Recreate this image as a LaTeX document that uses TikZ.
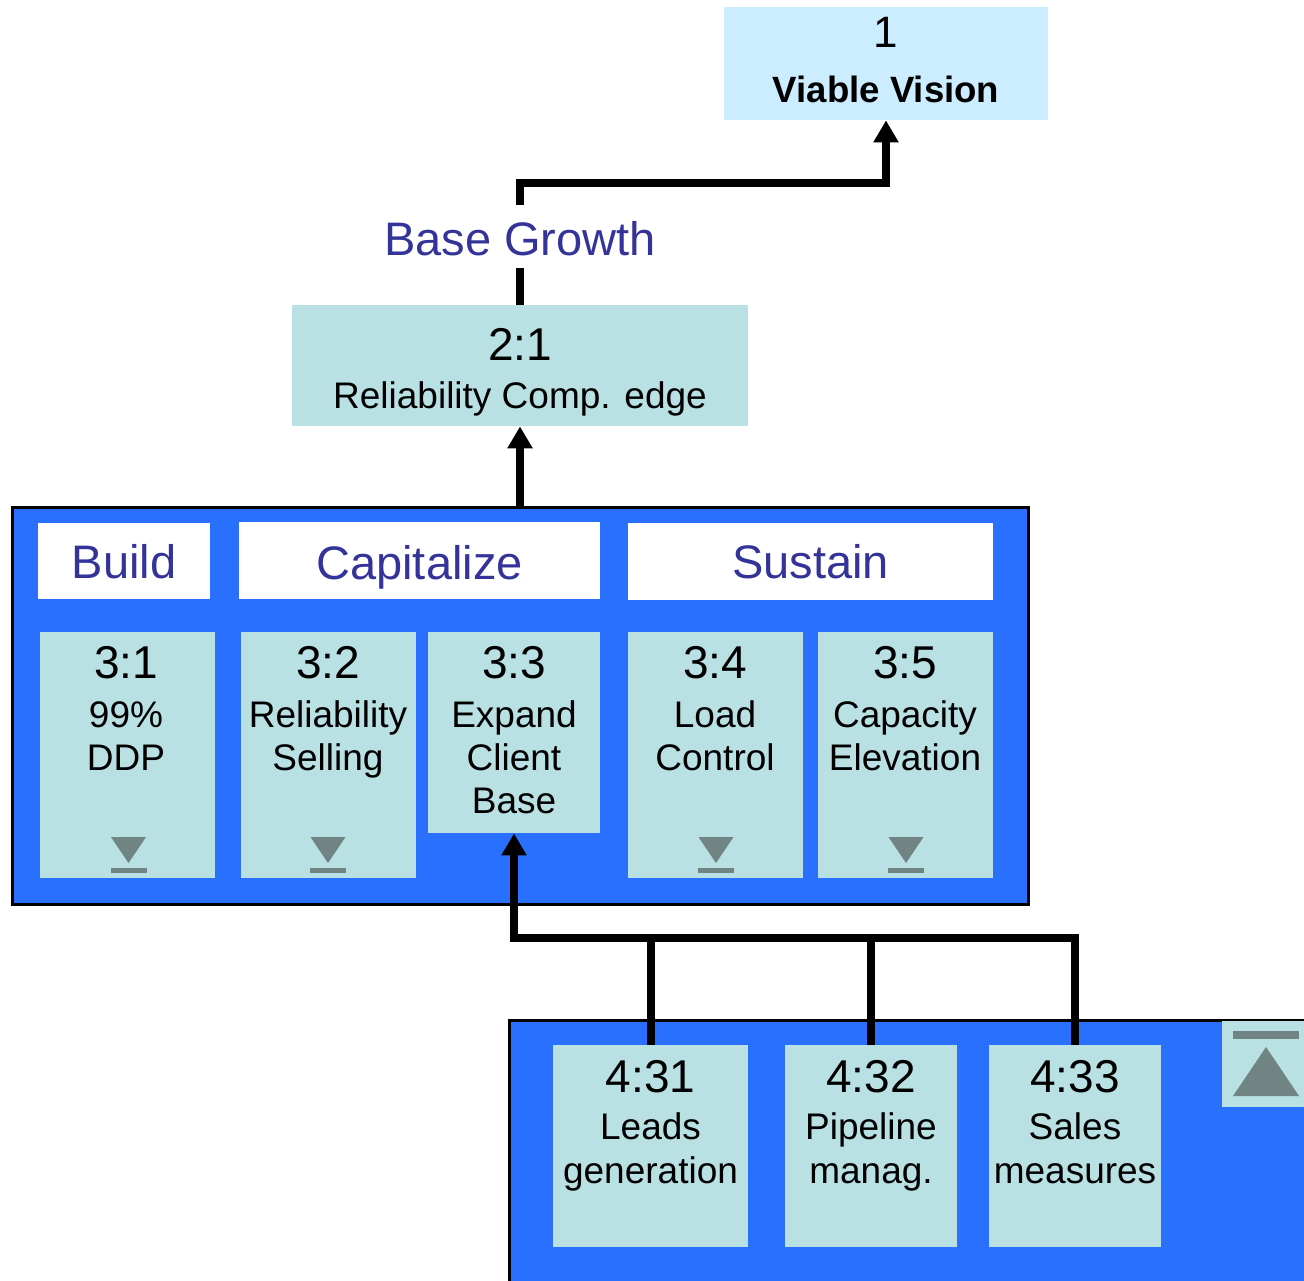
\documentclass[tikz,border=0pt]{standalone}
\usepackage{fontspec}
\setmainfont{Liberation Sans}
\usetikzlibrary{arrows.meta,fit}
\definecolor{vbblue}{RGB}{41,112,255}
\definecolor{boxteal}{RGB}{185,224,227}
\definecolor{vvblue}{RGB}{204,236,255}
\definecolor{headblue}{RGB}{51,51,153}
\definecolor{markgray}{RGB}{112,132,132}
\tikzset{
  rbox/.style={inner sep=0pt, fill=boxteal},
  frame/.style={inner sep=0pt, fill=vbblue, draw=black, line width=1.5pt},
  head/.style={inner sep=0pt, fill=white},
  conn/.style={line width=4pt, line join=miter, draw=black},
  tip/.style={-{Triangle[width=12pt,length=11pt]}},
  numtxt/.style={anchor=base, inner sep=0pt, font=\fontsize{23}{27}\selectfont},
  bodytxt/.style={anchor=base, inner sep=0pt, font=\fontsize{18.5}{22}\selectfont},
  headtxt/.style={anchor=base, inner sep=0pt, text=headblue, font=\fontsize{23.5}{28}\selectfont},
  grayfill/.style={fill=markgray},
}
\begin{document}
\begin{tikzpicture}[x=0.5pt,y=-0.5pt]
\clip (0,0) rectangle (1304,1280);
\fill[white] (0,0) rectangle (1304,1280);

% top box
\node[inner sep=0pt, fill=vvblue, fit={(724,7) (1048,120)}] (vv) {};
\node[anchor=base, inner sep=0pt, font=\fontsize{22}{26}\selectfont] (vvn) at (886,47) {1};
\node[anchor=base, inner sep=0pt, font=\bfseries\fontsize{18.3}{22}\selectfont] (vvt) at (886,102) {Viable Vision};

% 2:1 box
\node[rbox, fit={(292,305) (748,426)}] (r21) {};
\node[numtxt] (r21n) at (520,360) {2:1};
\node[bodytxt] (r21t) at (520,408) {Reliability Comp. edge};

% big frame
\node[frame, fit={(12,507) (1028,904)}] (big) {};
\node[head, fit={(38,523) (210,599)}] (hb) {};
\node[head, fit={(239,522) (600,599)}] (hc) {};
\node[head, fit={(628,523) (993,600)}] (hs) {};
\node[headtxt] (hbt) at (124,578) {Build};
\node[headtxt] (hct) at (419.5,579) {Capitalize};
\node[headtxt] (hst) at (810.5,578) {Sustain};

% level-3 boxes
\node[rbox, fit={(40,632) (215,878)}] (b31) {};
\node[rbox, fit={(241,632) (416,878)}] (b32) {};
\node[rbox, fit={(428,632) (600,833)}] (b33) {};
\node[rbox, fit={(628,632) (803,878)}] (b34) {};
\node[rbox, fit={(818,632) (993,878)}] (b35) {};

\node[numtxt] (t31n) at (126,678) {3:1};
\node[bodytxt] (t31a) at (126,727) {99\%};
\node[bodytxt] (t31b) at (126,770) {DDP};

\node[numtxt] (t32n) at (328,678) {3:2};
\node[bodytxt] (t32a) at (328,727) {Reliability};
\node[bodytxt] (t32b) at (328,770) {Selling};

\node[numtxt] (t33n) at (514,678) {3:3};
\node[bodytxt] (t33a) at (514,727) {Expand};
\node[bodytxt] (t33b) at (514,770) {Client};
\node[bodytxt] (t33c) at (514,813) {Base};

\node[numtxt] (t34n) at (715,678) {3:4};
\node[bodytxt] (t34a) at (715,727) {Load};
\node[bodytxt] (t34b) at (715,770) {Control};

\node[numtxt] (t35n) at (905,678) {3:5};
\node[bodytxt] (t35a) at (905,727) {Capacity};
\node[bodytxt] (t35b) at (905,770) {Elevation};

% down marks
\foreach \cx in {128.5,328,716,906}{
  \fill[grayfill] (\cx-17.5,837) -- (\cx+17.5,837) -- (\cx,863) -- cycle;
  \fill[grayfill] (\cx-18,868) rectangle (\cx+18,873);
}

% bottom frame
\node[frame, fit={(509,1020) (1330,1300)}] (bot) {};
\node[rbox, fit={(553,1045) (748,1247)}] (b431) {};
\node[rbox, fit={(785,1045) (957,1247)}] (b432) {};
\node[rbox, fit={(989,1045) (1161,1247)}] (b433) {};
\node[rbox, fit={(1222,1021) (1330,1107)}] (icon) {};
\fill[grayfill] (1233,1031) rectangle (1299,1039);
\fill[grayfill] (1233,1096) -- (1299,1096) -- (1266,1047) -- cycle;

\node[numtxt] (t431n) at (650.5,1092) {4:31};
\node[bodytxt] (t431a) at (650.5,1139) {Leads};
\node[bodytxt] (t431b) at (650.5,1183) {generation};

\node[numtxt] (t432n) at (871,1092) {4:32};
\node[bodytxt] (t432a) at (871,1139) {Pipeline};
\node[bodytxt] (t432b) at (871,1183) {manag.};

\node[numtxt] (t433n) at (1075,1092) {4:33};
\node[bodytxt] (t433a) at (1075,1139) {Sales};
\node[bodytxt] (t433b) at (1075,1183) {measures};

% connectors
\coordinate (bend1) at (520,183);
\draw[conn, tip] (r21.north) |- (bend1) -| (vv.south);
\node[anchor=base, fill=white, inner xsep=3pt, inner ysep=0pt, text height=25pt, text depth=6.5pt, text=headblue, font=\fontsize{23.5}{28}\selectfont] (bg) at (520,255) {Base Growth};

\draw[conn, tip] (big.north) -- (r21.south);

\coordinate (j) at (514,938);
\draw[conn, tip] (b433.north) |- (j) -- (b33.south);
\draw[conn] (b431.north) -- (b431.north |- j);
\draw[conn] (b432.north) -- (b432.north |- j);
\end{tikzpicture}
\end{document}
